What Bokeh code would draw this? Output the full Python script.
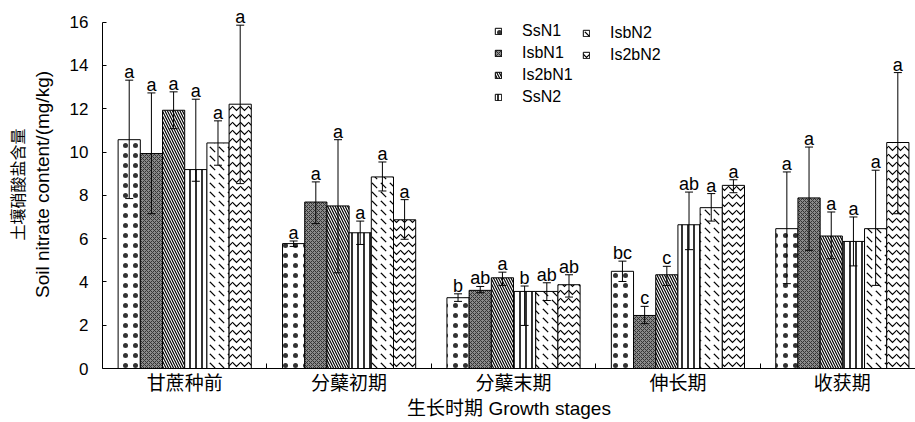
from bokeh.plotting import figure
from bokeh.models import (ColumnDataSource, Range1d, FixedTicker, LinearAxis,
                          Whisker, TeeHead, Legend, LegendItem)
from bokeh.embed import file_html
from bokeh.resources import INLINE
from bokeh.core.properties import value

stages = ["甘蔗种前", "分蘖初期", "分蘖末期", "伸长期", "收获期"]
series = ["SsN1", "IsbN1", "Is2bN1", "SsN2", "IsbN2", "Is2bN2"]
y_ticks = [0, 2, 4, 6, 8, 10, 12, 14, 16]
x_title = "生长时期 Growth stages"
y_title_en = "Soil nitrate content/(mg/kg)"
y_title_zh = "土壤硝酸盐含量"

# means
SsN1 = [10.57, 5.77, 3.27, 4.49, 6.46]
IsbN1 = [9.93, 7.69, 3.61, 2.45, 7.88]
Is2bN1 = [11.93, 7.51, 4.19, 4.33, 6.12]
SsN2 = [9.19, 6.27, 3.56, 6.64, 5.87]
IsbN2 = [10.42, 8.85, 3.56, 7.43, 6.46]
Is2bN2 = [12.21, 6.87, 3.87, 8.46, 10.44]

# error bar upper ends
SsN1_hi = [13.32, 5.89, 3.45, 4.96, 9.08]
IsbN1_hi = [12.73, 8.62, 3.79, 2.87, 10.23]
Is2bN1_hi = [12.78, 10.57, 4.45, 4.72, 7.23]
SsN2_hi = [12.44, 6.81, 3.81, 8.15, 7.00]
IsbN2_hi = [11.44, 9.54, 3.96, 8.08, 9.16]
Is2bN2_hi = [15.86, 7.80, 4.33, 8.72, 13.67]

# error bar lower ends
SsN1_lo = [7.85, 5.64, 3.10, 4.02, 3.92]
IsbN1_lo = [7.15, 6.69, 3.50, 2.07, 5.46]
Is2bN1_lo = [11.08, 4.42, 3.84, 3.84, 5.07]
SsN2_lo = [8.65, 5.73, 1.99, 5.49, 4.74]
IsbN2_lo = [9.39, 8.20, 3.14, 6.81, 3.84]
Is2bN2_lo = [8.54, 5.97, 3.30, 8.12, 7.15]

# significance letters
SsN1_sig = ["a", "a", "b", "bc", "a"]
IsbN1_sig = ["a", "a", "ab", "c", "a"]
Is2bN1_sig = ["a", "a", "a", "c", "a"]
SsN2_sig = ["a", "a", "b", "ab", "a"]
IsbN2_sig = ["a", "a", "ab", "a", "a"]
Is2bN2_sig = ["a", "a", "ab", "a", "a"]

means = [SsN1, IsbN1, Is2bN1, SsN2, IsbN2, Is2bN2]
highs = [SsN1_hi, IsbN1_hi, Is2bN1_hi, SsN2_hi, IsbN2_hi, Is2bN2_hi]
lows = [SsN1_lo, IsbN1_lo, Is2bN1_lo, SsN2_lo, IsbN2_lo, Is2bN2_lo]
sigs = [SsN1_sig, IsbN1_sig, Is2bN1_sig, SsN2_sig, IsbN2_sig, Is2bN2_sig]

styles = [
    dict(fill_color="white", hatch_pattern="dot", hatch_scale=10, hatch_weight=0.6, hatch_color="#333333"),
    dict(fill_color="#8a8a8a", hatch_pattern="diagonal_cross", hatch_scale=4, hatch_weight=1, hatch_color="#333333"),
    dict(fill_color="white", hatch_pattern="left_diagonal_line", hatch_scale=5, hatch_weight=1.2, hatch_color="black"),
    dict(fill_color="white", hatch_pattern="vertical_line", hatch_scale=6, hatch_weight=1.6, hatch_color="black"),
    dict(fill_color="white", hatch_pattern="left_diagonal_dash", hatch_scale=9, hatch_weight=1.2, hatch_color="black"),
    dict(fill_color="white", hatch_pattern="horizontal_wave", hatch_scale=8, hatch_weight=1.2, hatch_color="black"),
]

bar_w = 0.135
n = len(series)

p = figure(width=915, height=422, output_backend="svg", toolbar_location=None,
           x_range=Range1d(0, 4.945), y_range=Range1d(0, 17.0),
           min_border_left=102, min_border_right=0, min_border_top=0, min_border_bottom=54)
p.outline_line_color = None
p.xgrid.visible = False
p.ygrid.visible = False
p.background_fill_color = "white"

renderers = []
for j, name in enumerate(series):
    xs = [g + 0.5 + (j - (n - 1) / 2) * bar_w for g in range(len(stages))]
    src = ColumnDataSource(dict(x=xs, top=means[j], hi=highs[j], lo=lows[j], sig=sigs[j]))
    r = p.vbar(x="x", top="top", width=bar_w, bottom=0, source=src,
               line_color="black", line_width=1, **styles[j])
    renderers.append(r)
    w = Whisker(base="x", upper="hi", lower="lo", source=src, line_color="black", line_width=1,
                level="overlay",
                upper_head=TeeHead(size=8, line_color="black", line_width=1),
                lower_head=TeeHead(size=8, line_color="black", line_width=1))
    p.add_layout(w)
    p.text(x="x", y="hi", text="sig", source=src, text_align="center", text_baseline="alphabetic",
           y_offset=-8, text_font=value("Liberation Sans"), text_font_size="18px", text_color="black")

# x axis
xa = p.xaxis[0]
xa.ticker = FixedTicker(ticks=[g + 0.5 for g in range(len(stages))],
                        minor_ticks=[g for g in range(1, len(stages))])
xa.major_label_overrides = {g + 0.5: s for g, s in enumerate(stages)}
xa.major_tick_line_color = None
xa.major_tick_in = 0
xa.major_tick_out = 0
xa.minor_tick_in = 5
xa.minor_tick_out = 0
xa.minor_tick_line_color = "black"
xa.axis_line_color = "black"
xa.major_label_text_font = "Liberation Sans, Noto Sans CJK SC"
xa.major_label_text_font_size = "19px"
xa.major_label_text_color = "black"
xa.major_label_standoff = 4
xa.axis_label = x_title
xa.axis_label_text_font = "Liberation Sans, Noto Sans CJK SC"
xa.axis_label_text_font_size = "19px"
xa.axis_label_text_font_style = "normal"
xa.axis_label_text_color = "black"
xa.axis_label_standoff = 1

# y axis
ya = p.yaxis[0]
ya.ticker = FixedTicker(ticks=y_ticks)
ya.bounds = (0, 16)
ya.major_tick_in = 4
ya.major_tick_out = 0
ya.minor_tick_line_color = None
ya.axis_line_color = "black"
ya.major_tick_line_color = "black"
ya.major_label_text_font = "Liberation Sans"
ya.major_label_text_font_size = "17px"
ya.major_label_text_color = "black"
ya.major_label_standoff = 14
ya.axis_label = y_title_en
ya.axis_label_text_font = "Liberation Sans"
ya.axis_label_text_font_size = "19px"
ya.axis_label_text_font_style = "normal"
ya.axis_label_text_color = "black"
ya.axis_label_standoff = 14

ya2 = LinearAxis(ticker=FixedTicker(ticks=[]), axis_line_color=None, major_tick_line_color=None,
                 minor_tick_line_color=None, major_tick_in=0, major_tick_out=0,
                 axis_label=y_title_zh,
                 axis_label_text_font="Noto Sans CJK SC", axis_label_text_font_size="16px",
                 axis_label_text_font_style="normal", axis_label_text_color="black",
                 axis_label_standoff=0, major_label_text_font_size="0px")
p.add_layout(ya2, "left")

# legends
leg_common = dict(border_line_color=None, background_fill_alpha=0, padding=0, margin=0,
                  spacing=4, glyph_width=8, glyph_height=8, label_standoff=20,
                  label_text_font="Liberation Sans", label_text_font_size="16px",
                  label_text_color="black")
leg1 = Legend(items=[LegendItem(label=series[j], renderers=[renderers[j]]) for j in range(4)],
              location=(392, 262), **leg_common)
leg2 = Legend(items=[LegendItem(label=series[j], renderers=[renderers[j]]) for j in range(4, 6)],
              location=(480, 304), **leg_common)
p.add_layout(leg1)
p.add_layout(leg2)

open("out.html", "w").write(file_html(p, INLINE))
